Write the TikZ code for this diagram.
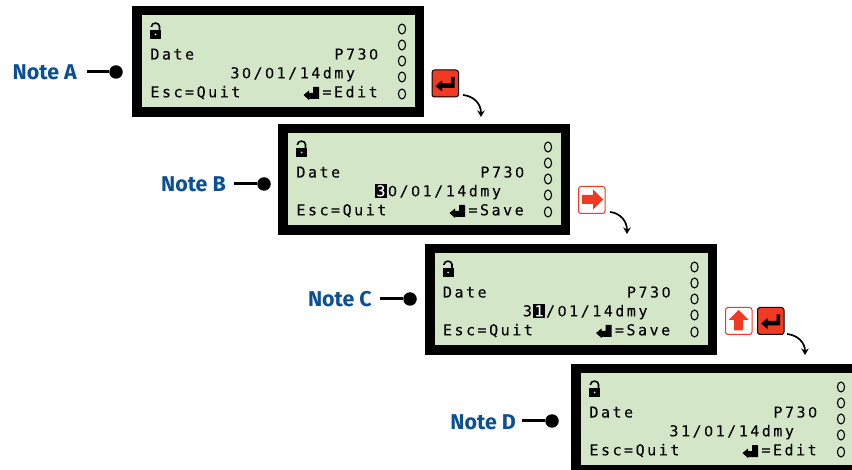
\documentclass[tikz,border=0pt]{standalone}
\usepackage{fontspec}
\setmainfont{Liberation Sans}
\newfontfamily\lcdfont{DejaVu Sans Mono}[FakeBold=0.1]
\newfontfamily\lcdzero{Liberation Sans}[FakeBold=0.1]
\newfontfamily\notefont{Fira Sans}
\definecolor{lcdgreen}{HTML}{D3E6C8}
\definecolor{noteblue}{HTML}{0B4F94}
\definecolor{keyred}{HTML}{F03A21}
\newlength{\lcdpitch}\setlength{\lcdpitch}{11.55pt}
\def\lcdch#1{\makebox[\lcdpitch][c]{\ifx#10{\lcdzero 0}\else#1\fi}}
\def\lcdgo#1{\ifx#1\relax\else\lcdch{#1}\expandafter\lcdgo\fi}
\def\lcd#1{\lcdgo#1\relax}
\def\lcdhl#1{\rlap{\raisebox{-1.5pt}{\rule{\lcdpitch}{14pt}}}{\color{white}\lcdch{#1}}}
\usetikzlibrary{arrows.meta}
\tikzset{
  x=1pt,y=-1pt,
  lcdtext/.style={anchor=base west,inner sep=0pt,font=\fontsize{15pt}{15pt}\lcdfont,text=black},
  notelabel/.style={anchor=base east,inner sep=0pt,font=\fontsize{21.4pt}{21.4pt}\notefont\bfseries,text=noteblue},
  notedot/.style={circle,fill=black,inner sep=0pt,minimum size=13.5pt},
  noteline/.style={draw=black,line width=3pt},
  panelframe/.style={anchor=north west,draw=none,fill=black,inner sep=0pt,minimum width=292pt,minimum height=111pt},
  panelglass/.style={anchor=north west,draw=none,fill=lcdgreen,inner sep=0pt,minimum width=273pt,minimum height=92pt},
  led/.style={draw=black,line width=1.1pt},
  redkey/.style={anchor=north west,draw=black,line width=1pt,fill=keyred,rounded corners=2.5pt,inner sep=0pt,minimum width=26.5pt,minimum height=27pt},
  whitekey/.style={anchor=north west,draw=keyred,line width=1pt,fill=white,rounded corners=2.5pt,inner sep=0pt,minimum width=26.5pt,minimum height=27pt},
  stepcurve/.style={draw=black,line width=1.7pt,-{Stealth[length=6.5pt,width=7.5pt]}},
}
% #1 name, #2 x, #3 y, #4 date row, #5 action
\newcommand{\lcdpanel}[5]{%
  \begin{scope}[shift={(#2,#3)}]
    \node[panelframe] (#1frame) at (0,0) {};
    \node[panelglass] (#1glass) at (10,9) {};
    % lock
    \fill[black] (18,24) rectangle (29,33.5);
    \draw[black,line width=1.6pt] (19.5,21) -- (19.5,20.5) arc[start angle=180,end angle=0,x radius=4,y radius=-3.4] -- (27.5,24.5);
    \fill[lcdgreen] (23.5,28.5) circle[radius=1];
    % LEDs
    \foreach \ly in {23,39,55,71,88}{\draw[led] (270,\ly) ellipse[x radius=3.6,y radius=5];}
    \node[lcdtext] (#1date) at (17,53.5) {\lcd{Date}};
    \node[lcdtext] (#1code) at (201,53.5) {\lcd{P730}};
    \node[lcdtext] (#1value) at (97,72.3) {#4};
    \node[lcdtext] (#1quit) at (17,91.3) {\lcd{Esc=Quit}};
    \node[lcdtext] (#1act) at (189,91.3) {\lcd{=#5}};
    \fill[black] (171.5,89) -- (177,84.5) -- (177,87) -- (181,87) -- (181,81) -- (187,81) -- (187,93) -- (177,93) -- (177,94) -- cycle;
  \end{scope}}
% enter glyph in a key whose top-left is #1,#2
\newcommand{\enterglyph}[2]{\fill[black] (#1+4,#2+16.5) -- (#1+10.5,#2+11) -- (#1+10.5,#2+14) -- (#1+19.5,#2+14) -- (#1+19.5,#2+7.5) -- (#1+23,#2+7.5) -- (#1+23,#2+18.5) -- (#1+10.5,#2+18.5) -- (#1+10.5,#2+22) -- cycle;}
\begin{document}
\begin{tikzpicture}
\clip (0,0) rectangle (852,470);
\fill[white] (0,0) rectangle (852,470);
\lcdpanel{a}{132}{6}{\lcd{30/01/14dmy}}{Edit}
\lcdpanel{b}{278}{124}{\lcdhl{3}\lcd{0/01/14dmy}}{Save}
\lcdpanel{c}{424.5}{244}{\lcd{3}\lcdhl{1}\lcd{/01/14dmy}}{Save}
\lcdpanel{d}{571}{364}{\lcd{31/01/14dmy}}{Edit}
% notes
\node[notelabel] (noteA) at (77,80) {Note A};
\node[notedot] (dotA) at (116,72) {};
\coordinate (stubA) at (87,72);
\draw[noteline] (stubA) -- (dotA);
\node[notelabel] (noteB) at (226,192) {Note B};
\node[notedot] (dotB) at (264,184) {};
\coordinate (stubB) at (234,184);
\draw[noteline] (stubB) -- (dotB);
\node[notelabel] (noteC) at (372,307) {Note C};
\node[notedot] (dotC) at (410,299) {};
\coordinate (stubC) at (380,299);
\draw[noteline] (stubC) -- (dotC);
\node[notelabel] (noteD) at (516,429) {Note D};
\node[notedot] (dotD) at (552,421) {};
\coordinate (stubD) at (522,421);
\draw[noteline] (stubD) -- (dotD);
% keys
\node[redkey] (keyA) at (431.5,69.5) {};
\enterglyph{431.5}{69.5}
\node[whitekey] (keyB) at (578,186) {};
\fill[keyred] (582,195) -- (593,195) -- (593,189.5) -- (603,199.5) -- (593,209.5) -- (593,204) -- (582,204) -- cycle;
\node[whitekey] (keyC) at (725,307) {};
\fill[keyred] (728.5,320) -- (738.5,310) -- (748.5,320) -- (743,320) -- (743,330.5) -- (734,330.5) -- (734,320) -- cycle;
\node[redkey] (keyD) at (757,307) {};
\enterglyph{757}{307}
% step curves
\coordinate (endA) at (481,117);
\coordinate (endB) at (627,234);
\coordinate (endC) at (805,355);
\coordinate (startA) at (463,95);
\coordinate (startB) at (610,212);
\coordinate (startC) at (787,334);
\draw[stepcurve] (startA) .. controls (473,96) and (481,103) .. (endA);
\draw[stepcurve] (startB) .. controls (620,213) and (627,221) .. (endB);
\draw[stepcurve] (startC) .. controls (797,335) and (805,342) .. (endC);
\end{tikzpicture}
\end{document}
